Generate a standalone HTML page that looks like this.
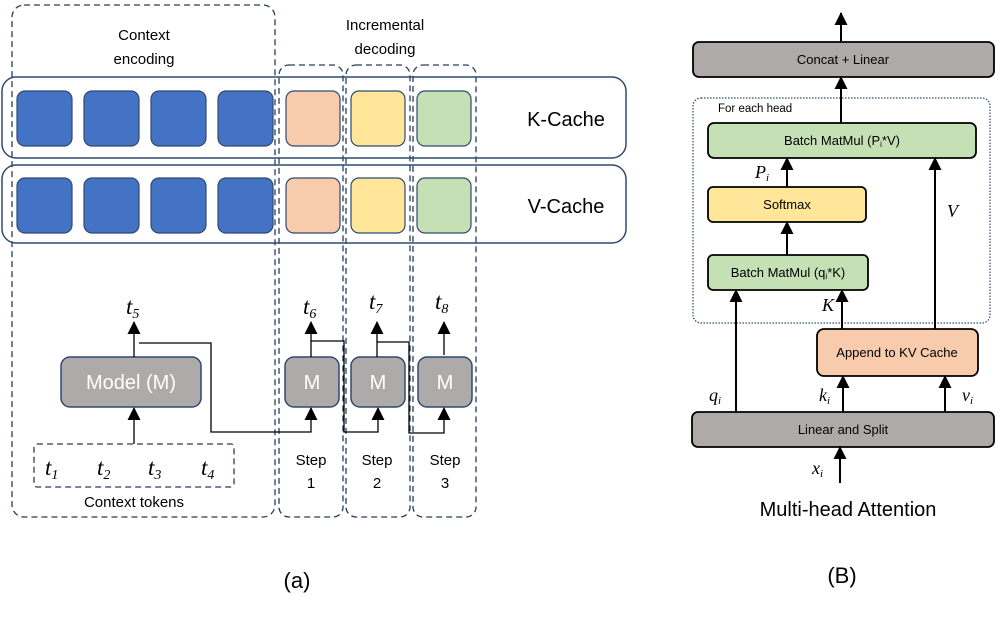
<!DOCTYPE html>
<html><head><meta charset="utf-8"><style>
html,body{margin:0;padding:0;background:#fff;}
svg{display:block;}
text{font-family:"Liberation Sans",sans-serif;}
.m text{font-family:"Liberation Serif",serif;font-style:italic;}
</style></head><body>
<svg width="996" height="618" viewBox="0 0 996 618" xmlns="http://www.w3.org/2000/svg">
<defs>
<marker id="ah" markerWidth="13" markerHeight="13" refX="12" refY="6.5" orient="auto" markerUnits="userSpaceOnUse" viewBox="0 0 13 13">
<path d="M0,0 L13,6.5 L0,13 Z" fill="#000"/></marker>
</defs>
<g fill="none" stroke="#263d5e" stroke-width="1.3" stroke-dasharray="6,4">
<rect x="12" y="5" width="263" height="512" rx="12"/>
<rect x="279" y="65" width="64" height="452" rx="10"/>
<rect x="346" y="65" width="64" height="452" rx="10"/>
<rect x="413" y="65" width="63" height="452" rx="10"/>
<rect x="34" y="444" width="200" height="43" rx="3"/>
</g>
<text x="144" y="40" font-size="15" text-anchor="middle">Context</text>
<text x="144" y="64" font-size="15" text-anchor="middle">encoding</text>
<text x="385" y="30" font-size="15" text-anchor="middle">Incremental</text>
<text x="385" y="54" font-size="15" text-anchor="middle">decoding</text>
<g fill="none" stroke="#2f4a6e" stroke-width="1.5">
<rect x="2" y="77" width="624" height="81" rx="14"/>
<rect x="2" y="165" width="624" height="78" rx="14"/>
</g>
<g stroke="#2f4a6e" stroke-width="1.2">
<rect x="17" y="91" width="55" height="55" rx="8" fill="#4472c4"/>
<rect x="84" y="91" width="55" height="55" rx="8" fill="#4472c4"/>
<rect x="151" y="91" width="55" height="55" rx="8" fill="#4472c4"/>
<rect x="218" y="91" width="55" height="55" rx="8" fill="#4472c4"/>
<rect x="286" y="91" width="54" height="55" rx="8" fill="#f8cbad"/>
<rect x="351" y="91" width="54" height="55" rx="8" fill="#ffe699"/>
<rect x="417" y="91" width="54" height="55" rx="8" fill="#c5e0b4"/>
<rect x="17" y="178" width="55" height="55" rx="8" fill="#4472c4"/>
<rect x="84" y="178" width="55" height="55" rx="8" fill="#4472c4"/>
<rect x="151" y="178" width="55" height="55" rx="8" fill="#4472c4"/>
<rect x="218" y="178" width="55" height="55" rx="8" fill="#4472c4"/>
<rect x="286" y="178" width="54" height="55" rx="8" fill="#f8cbad"/>
<rect x="351" y="178" width="54" height="55" rx="8" fill="#ffe699"/>
<rect x="417" y="178" width="54" height="55" rx="8" fill="#c5e0b4"/>
</g>
<text x="566" y="126" font-size="20" text-anchor="middle">K-Cache</text>
<text x="566" y="213" font-size="20" text-anchor="middle">V-Cache</text>
<g fill="#aeaaaa" stroke="#2f4a6e" stroke-width="1.5">
<rect x="61" y="357" width="140" height="50" rx="9"/>
<rect x="285" y="357" width="54" height="50" rx="9"/>
<rect x="351" y="357" width="54" height="50" rx="9"/>
<rect x="418" y="357" width="54" height="50" rx="9"/>
</g>
<g fill="#fff" font-size="20" text-anchor="middle">
<text x="131" y="389">Model (M)</text>
<text x="312" y="389">M</text>
<text x="378" y="389">M</text>
<text x="445" y="389">M</text>
</g>
<g stroke="#000" stroke-width="1.3" fill="none">
<line x1="134" y1="444" x2="134" y2="408" marker-end="url(#ah)"/>
<line x1="134" y1="357" x2="134" y2="322" marker-end="url(#ah)"/>
<line x1="311" y1="357" x2="311" y2="322" marker-end="url(#ah)"/>
<line x1="377" y1="357" x2="377" y2="322" marker-end="url(#ah)"/>
<line x1="444" y1="355" x2="444" y2="322" marker-end="url(#ah)"/>
<polyline points="139,343 211,343 211,432 311,432 311,408" marker-end="url(#ah)"/>
<polyline points="311,341 344,341 344,432 378,432 378,408" marker-end="url(#ah)"/>
<polyline points="377,342 409,342 409,433 444,433 444,408" marker-end="url(#ah)"/>
</g>
<g class="m" font-size="23">
<text x="126" y="314">t<tspan font-size="14" dy="4">5</tspan></text>
<text x="303" y="314">t<tspan font-size="14" dy="4">6</tspan></text>
<text x="369" y="309">t<tspan font-size="14" dy="4">7</tspan></text>
<text x="435" y="309">t<tspan font-size="14" dy="4">8</tspan></text>
<text x="45" y="475">t<tspan font-size="14" dy="4">1</tspan></text>
<text x="97" y="475">t<tspan font-size="14" dy="4">2</tspan></text>
<text x="148" y="475">t<tspan font-size="14" dy="4">3</tspan></text>
<text x="201" y="475">t<tspan font-size="14" dy="4">4</tspan></text>
</g>
<g font-size="15" text-anchor="middle">
<text x="134" y="507">Context tokens</text>
<text x="311" y="465">Step</text><text x="311" y="488">1</text>
<text x="377" y="465">Step</text><text x="377" y="488">2</text>
<text x="445" y="465">Step</text><text x="445" y="488">3</text>
</g>
<text x="297" y="588" font-size="22" text-anchor="middle">(a)</text>
<rect x="693" y="98" width="297" height="225" rx="8" fill="none" stroke="#2f4a6e" stroke-width="1.2" stroke-dasharray="1.5,1.5"/>
<text x="718" y="112" font-size="11.5">For each head</text>
<g stroke="#000" stroke-width="1.8">
<rect x="693" y="42" width="301" height="35" rx="6" fill="#aeaaaa"/>
<rect x="708" y="123" width="268" height="35" rx="6" fill="#c5e0b4"/>
<rect x="708" y="187" width="158" height="35" rx="5" fill="#ffe699"/>
<rect x="708" y="255" width="160" height="35" rx="5" fill="#c5e0b4"/>
<rect x="817" y="329" width="161" height="47" rx="7" fill="#f8cbad"/>
<rect x="692" y="412" width="302" height="35" rx="6" fill="#aeaaaa"/>
</g>
<g font-size="13" text-anchor="middle">
<text x="843" y="64">Concat + Linear</text>
<text x="842" y="145">Batch MatMul (P<tspan font-size="8" dy="2">i</tspan><tspan dy="-2">*V)</tspan></text>
<text x="787" y="209">Softmax</text>
<text x="788" y="277">Batch MatMul (q<tspan font-size="8" dy="2">i</tspan><tspan dy="-2">*K)</tspan></text>
<text x="897" y="357">Append to KV Cache</text>
<text x="843" y="434">Linear and Split</text>
</g>
<g stroke="#000" stroke-width="2" fill="none">
<line x1="841" y1="42" x2="841" y2="13" marker-end="url(#ah)"/>
<line x1="841" y1="123" x2="841" y2="77" marker-end="url(#ah)"/>
<line x1="787" y1="187" x2="787" y2="158" marker-end="url(#ah)"/>
<line x1="787" y1="255" x2="787" y2="222" marker-end="url(#ah)"/>
<line x1="736" y1="412" x2="736" y2="290" marker-end="url(#ah)"/>
<line x1="842" y1="329" x2="842" y2="290" marker-end="url(#ah)"/>
<line x1="935" y1="329" x2="935" y2="158" marker-end="url(#ah)"/>
<line x1="843" y1="412" x2="843" y2="376" marker-end="url(#ah)"/>
<line x1="945" y1="412" x2="945" y2="376" marker-end="url(#ah)"/>
<line x1="840" y1="483" x2="840" y2="447" marker-end="url(#ah)"/>
</g>
<g class="m" font-size="18">
<text x="755" y="178">P<tspan font-size="11" dy="3">i</tspan></text>
<text x="947" y="217">V</text>
<text x="822" y="311">K</text>
<text x="709" y="401">q<tspan font-size="11" dy="3">i</tspan></text>
<text x="819" y="401">k<tspan font-size="11" dy="3">i</tspan></text>
<text x="962" y="401">v<tspan font-size="11" dy="3">i</tspan></text>
<text x="812" y="474">x<tspan font-size="11" dy="3">i</tspan></text>
</g>
<text x="848" y="516" font-size="20" text-anchor="middle">Multi-head Attention</text>
<text x="842" y="583" font-size="22" text-anchor="middle">(B)</text>
</svg>
</body></html>
